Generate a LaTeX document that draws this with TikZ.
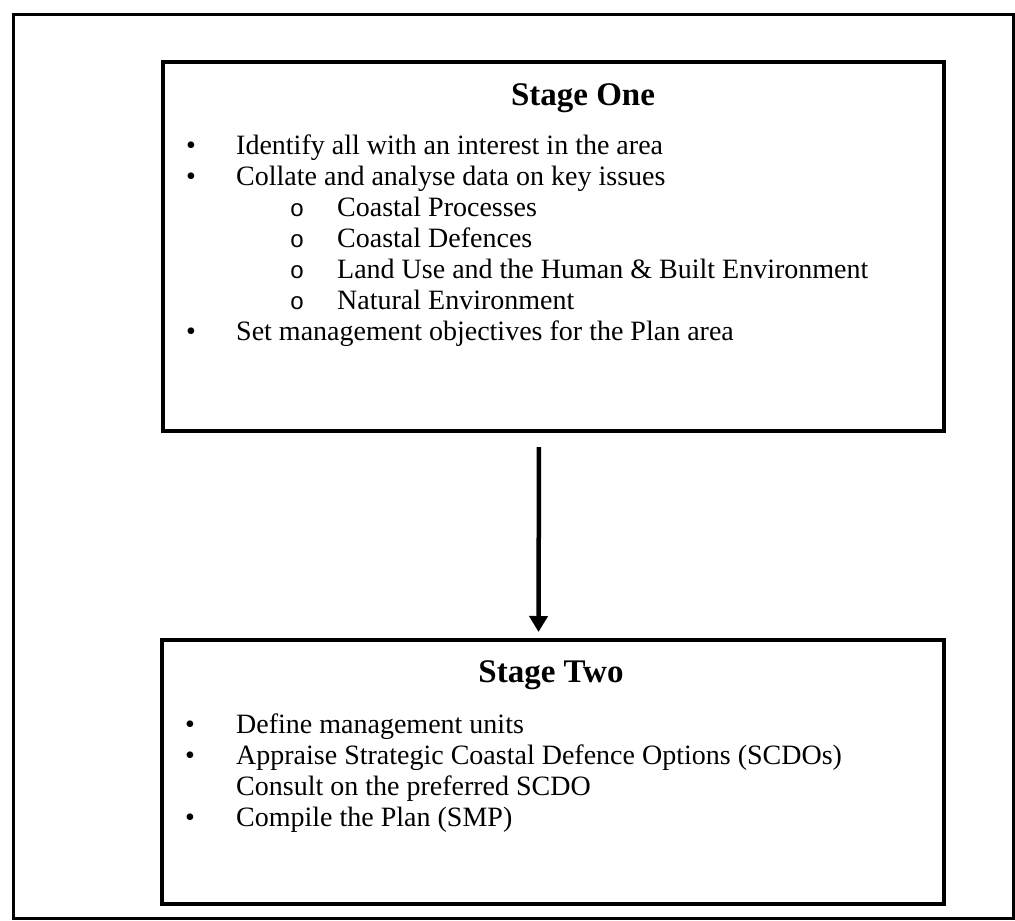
\documentclass[tikz,border=0pt]{standalone}
\usepackage{fontspec}
\setmainfont{Liberation Serif}
\newfontfamily\monofont{Liberation Mono}
\usetikzlibrary{arrows.meta}
\begin{document}
\begin{tikzpicture}[x=1pt,y=-1pt,
  frame/.style={draw, line width=2.5pt},
  stagebox/.style={draw, line width=4pt},
  title/.style={anchor=base, inner sep=0pt, font=\fontsize{33}{38}\selectfont\bfseries},
  item/.style={anchor=base west, inner sep=0pt, font=\fontsize{28}{32}\selectfont},
  dot/.style={anchor=base, inner sep=0pt, font=\fontsize{28}{32}\selectfont},
  sub/.style={anchor=base, inner sep=0pt, font=\fontsize{24}{32}\monofont},
  flow/.style={line width=4.5pt, -{Triangle[length=16pt,width=18pt]}}]
\useasboundingbox (0,0) rectangle (1015,921);
\fill[white] (0,0) rectangle (1015,921);

% outer frame
\node[frame, minimum width=1000pt, minimum height=904pt, anchor=north west, inner sep=0pt] (outer) at (12,13) {};

% Stage One box
\node[stagebox, minimum width=781pt, minimum height=369pt, anchor=north west, inner sep=0pt] (one) at (161,60) {};
\node[title] (t1) at (583,105) {Stage One};
\node[dot] (b1) at (191,154) {•};
\node[item] (l1) at (236,154) {Identify all with an interest in the area};
\node[dot] (b2) at (191,185) {•};
\node[item] (l2) at (236,185) {Collate and analyse data on key issues};
\node[sub] (s1) at (297,216) {o};
\node[item] (l3) at (337,216) {Coastal Processes};
\node[sub] (s2) at (297,247) {o};
\node[item] (l4) at (337,247) {Coastal Defences};
\node[sub] (s3) at (297,278) {o};
\node[item] (l5) at (337,278) {Land Use and the Human \& Built Environment};
\node[sub] (s4) at (297,309) {o};
\node[item] (l6) at (337,309) {Natural Environment};
\node[dot] (b3) at (191,340) {•};
\node[item] (l7) at (236,340) {Set management objectives for the Plan area};

% Stage Two box
\node[stagebox, minimum width=782pt, minimum height=264pt, anchor=north west, inner sep=0pt] (two) at (160,638) {};
\node[title] (t2) at (551,682) {Stage Two};
\node[dot] (c1) at (190,733) {•};
\node[item] (m1) at (236,733) {Define management units};
\node[dot] (c2) at (190,764) {•};
\node[item] (m2) at (236,764) {Appraise Strategic Coastal Defence Options (SCDOs)};
\node[item] (m3) at (236,795) {Consult on the preferred SCDO};
\node[dot] (c3) at (190,826) {•};
\node[item] (m4) at (236,826) {Compile the Plan (SMP)};

% connector between the stages
\draw[flow, shorten <=14pt, shorten >=6pt] ([xshift=-14.5pt]one.south) -- ([xshift=-14.5pt]two.north);
\end{tikzpicture}
\end{document}
